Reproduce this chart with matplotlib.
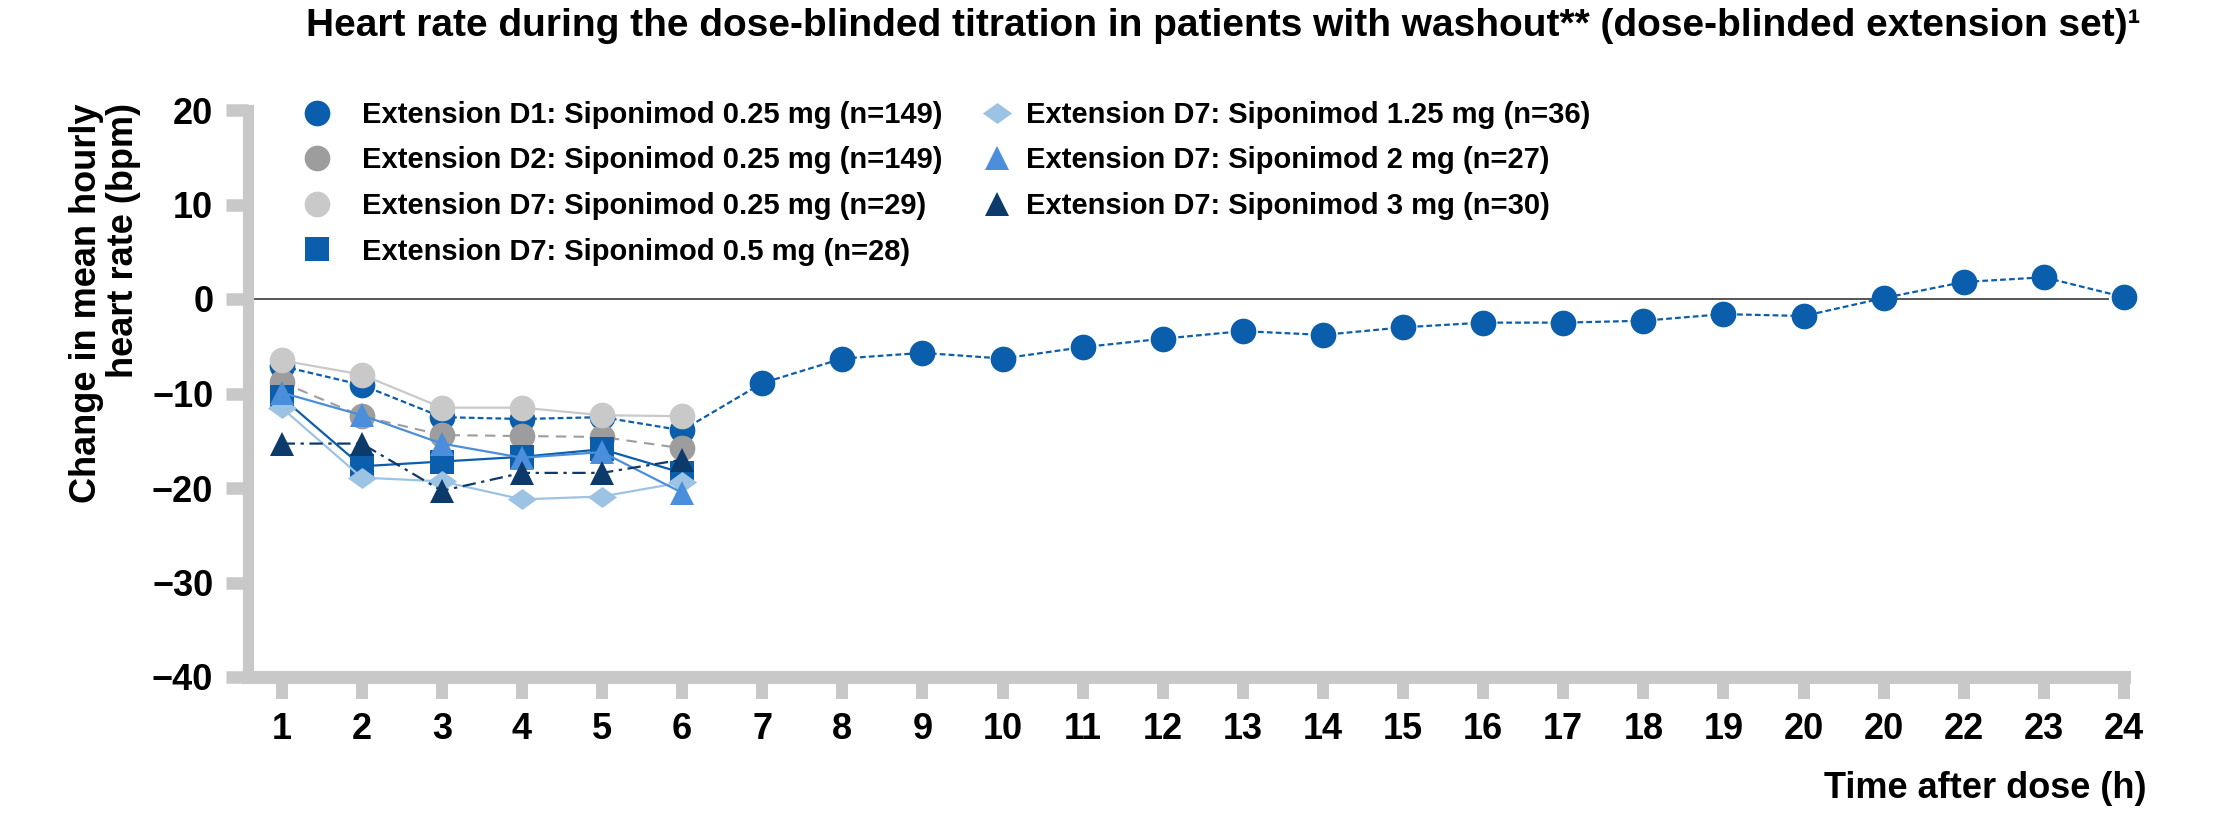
import matplotlib
matplotlib.use("Agg")
import matplotlib.pyplot as plt
from matplotlib.lines import Line2D

plt.rcParams['font.family'] = ['Liberation Sans', 'DejaVu Sans']
plt.rcParams['font.weight'] = 'bold'

# ---------------- data ----------------
hour_labels = ['1', '2', '3', '4', '5', '6', '7', '8', '9', '10', '11', '12',
               '13', '14', '15', '16', '17', '18', '19', '20', '20', '22', '23', '24']

d1_025 = [-7.1, -9.1, -12.5, -12.7, -12.5, -13.9, -8.9, -6.3, -5.7, -6.3, -5.1, -4.2,
          -3.4, -3.8, -3.0, -2.5, -2.5, -2.3, -1.6, -1.8, 0.1, 1.8, 2.3, 0.2]
d2_025 = [-8.8, -12.4, -14.4, -14.5, -14.6, -15.8]
d7_025 = [-6.5, -8.0, -11.5, -11.5, -12.3, -12.4]
d7_05 = [-10.4, -17.7, -17.2, -16.7, -15.9, -18.4]
d7_125 = [-11.5, -18.9, -19.3, -21.2, -20.9, -19.4]
d7_2 = [-9.9, -12.3, -15.3, -16.8, -16.2, -20.5]
d7_3 = [-15.3, -15.3, -20.3, -18.4, -18.4, -17.0]

series_labels = [
    'Extension D1: Siponimod 0.25 mg (n=149)',
    'Extension D2: Siponimod 0.25 mg (n=149)',
    'Extension D7: Siponimod 0.25 mg (n=29)',
    'Extension D7: Siponimod 0.5 mg (n=28)',
    'Extension D7: Siponimod 1.25 mg (n=36)',
    'Extension D7: Siponimod 2 mg (n=27)',
    'Extension D7: Siponimod 3 mg (n=30)',
]
yticks = [-40, -30, -20, -10, 0, 10, 20]

title = ('Heart rate during the dose-blinded titration in patients with '
         'washout** (dose-blinded extension set)\u00b9')

# ---------------- styles ----------------
DIAMOND = [(-1, 0), (0, 0.72), (1, 0), (0, -0.72), (-1, 0)]
styles = [
    dict(color='#0b5eab', marker='o', ms=18.5, ls=(0, (2.6, 1.4)), lw=1.6),
    dict(color='#9d9d9d', marker='o', ms=18.5, ls=(0, (5, 3.5)), lw=1.5),
    dict(color='#c9c9c9', marker='o', ms=18.5, ls='-', lw=1.6),
    dict(color='#0b5eab', marker='s', ms=17, ls='-', lw=1.6),
    dict(color='#9dc3e4', marker=DIAMOND, ms=21, ls='-', lw=1.6),
    dict(color='#4b8edb', marker='^', ms=17.5, ls='-', lw=1.6),
    dict(color='#0c3a6b', marker='^', ms=17.5, ls=(0, (6, 2.5, 1.5, 2.5)), lw=1.6),
]
all_series = [d1_025, d2_025, d7_025, d7_05, d7_125, d7_2, d7_3]

W, H = 2220, 834
fig = plt.figure(figsize=(W / 100, H / 100), dpi=100)
ax = fig.add_axes([248 / W, 1 - 677 / H, (2124 - 248) / W, (677 - 110) / H])

x_all = list(range(len(hour_labels)))
for vals, st in zip(all_series, styles):
    ax.plot(x_all[:len(vals)], vals, color=st['color'], marker=st['marker'],
            markersize=st['ms'], linestyle=st['ls'], linewidth=st['lw'],
            markeredgewidth=0, clip_on=False, zorder=3)

ax.axhline(0, xmin=0, xmax=0.9915, color='#555555', lw=1.4, zorder=1)

ax.set_xlim(-0.42, 23)
ax.set_ylim(-40, 20)
ax.set_xticks(x_all)
ax.set_xticklabels(hour_labels)
ax.set_yticks(yticks)

spine_c = '#c8c8c8'
for s in ['top', 'right']:
    ax.spines[s].set_visible(False)
ax.spines['left'].set_color(spine_c)
ax.spines['left'].set_linewidth(8)
ax.spines['bottom'].set_color(spine_c)
ax.spines['bottom'].set_linewidth(9.4)
ax.spines['bottom'].set_capstyle('projecting')
ax.spines['left'].set_capstyle('projecting')

ax.tick_params(axis='y', color=spine_c, width=9, length=16, pad=9,
               labelsize=26, labelcolor='black')
ax.tick_params(axis='x', color=spine_c, width=8.6, length=16, pad=9,
               labelsize=26, labelcolor='black')
for lab in ax.get_xticklabels() + ax.get_yticklabels():
    lab.set_fontweight('bold')

# legend (two blocks)
handles = [Line2D([], [], color=st['color'], marker=st['marker'],
                  markersize=st['ms'], linestyle='none', markeredgewidth=0)
           for st in styles]
leg1 = fig.legend(handles[:4], series_labels[:4], loc='upper left',
                  bbox_to_anchor=(305 / W, 1 - 101 / H), frameon=False,
                  borderpad=0, borderaxespad=0, handlelength=0.8,
                  handletextpad=1.16, labelspacing=0.6,
                  prop=dict(size=21, weight='bold'))
leg2 = fig.legend(handles[4:], series_labels[4:], loc='upper left',
                  bbox_to_anchor=(985 / W, 1 - 101 / H), frameon=False,
                  borderpad=0, borderaxespad=0, handlelength=0.8,
                  handletextpad=0.6, labelspacing=0.6,
                  prop=dict(size=21, weight='bold'))

fig.text(2140 / W, 1 - 26 / H, title, ha='right', va='center',
         fontsize=28, fontweight='bold')
fig.text(2146 / W, 1 - 798 / H, 'Time after dose (h)', ha='right',
         va='baseline', fontsize=26, fontweight='bold')
fig.text(105 / W, 1 - 303 / H, 'Change in mean hourly\nheart rate (bpm)',
         rotation=90, ha='center', va='center', multialignment='right',
         fontsize=26, fontweight='bold', linespacing=1.1)

fig.savefig('out.png', dpi=100)
